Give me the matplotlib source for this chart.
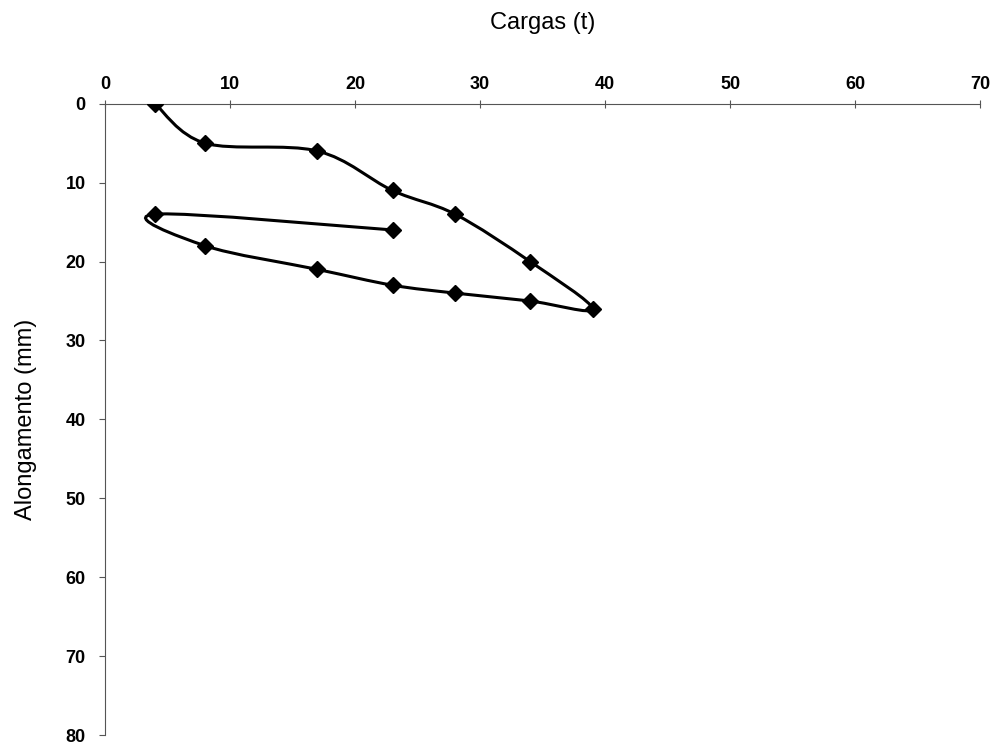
import matplotlib
matplotlib.use("Agg")
import matplotlib.pyplot as plt
import numpy as np
from matplotlib.path import Path
from matplotlib.patches import PathPatch

plt.rcParams['font.family'] = ['Liberation Sans', 'DejaVu Sans']

cargas = [4, 8, 17, 23, 28, 34, 39, 34, 28, 23, 17, 8, 4, 23]
alongamento = [0, 5, 6, 11, 14, 20, 26, 25, 24, 23, 21, 18, 14, 16]
x_ticks = [0, 10, 20, 30, 40, 50, 60, 70]
y_ticks = [0, 10, 20, 30, 40, 50, 60, 70, 80]

fig = plt.figure(figsize=(9.94, 7.47), dpi=100)
ax = fig.add_axes([0.1056, 0.016, 0.8804, 0.8452])
ax.set_xlim(0, 70)
ax.set_ylim(80, 0)

# smoothed line (Catmull-Rom as cubic Bezier, like Excel smoothing)
pts = np.column_stack([cargas, alongamento]).astype(float)
n = len(pts)
verts = [tuple(pts[0])]
codes = [Path.MOVETO]
for i in range(n - 1):
    p0 = pts[i - 1] if i > 0 else pts[i]
    p1 = pts[i]
    p2 = pts[i + 1]
    p3 = pts[i + 2] if i + 2 < n else pts[i + 1]
    c1 = p1 + (p2 - p0) / 6.0
    c2 = p2 - (p3 - p1) / 6.0
    verts += [tuple(c1), tuple(c2), tuple(p2)]
    codes += [Path.CURVE4] * 3
ax.add_patch(PathPatch(Path(verts, codes), facecolor='none', edgecolor='black', lw=2.2, zorder=2))
ax.plot(cargas, alongamento, linestyle='none', marker='D', color='black', markersize=8.5, zorder=3)

ax.xaxis.tick_top()
ax.xaxis.set_label_position('top')
ax.set_xticks(x_ticks)
ax.set_yticks(y_ticks)
ax.set_xticklabels([str(t) for t in x_ticks], fontweight='bold', fontsize=13)
ax.set_yticklabels([str(t) for t in y_ticks], fontweight='bold', fontsize=13)
ax.tick_params(axis='x', direction='inout', length=6, width=0.8, color='#555555', pad=5)
ax.tick_params(axis='y', direction='out', length=4, width=0.8, color='#555555', pad=10)
for s in ['right', 'bottom']:
    ax.spines[s].set_visible(False)
for s in ['left', 'top']:
    ax.spines[s].set_color('#555555')
    ax.spines[s].set_linewidth(0.8)

ax.set_xlabel('Cargas (t)', fontsize=17, labelpad=25)
ax.xaxis.set_label_coords(0.5, 1.0 + 75 / 631)
ax.set_ylabel('Alongamento (mm)', fontsize=17)
ax.yaxis.set_label_coords(-0.078, 0.5)

fig.savefig('out.png', dpi=100)
